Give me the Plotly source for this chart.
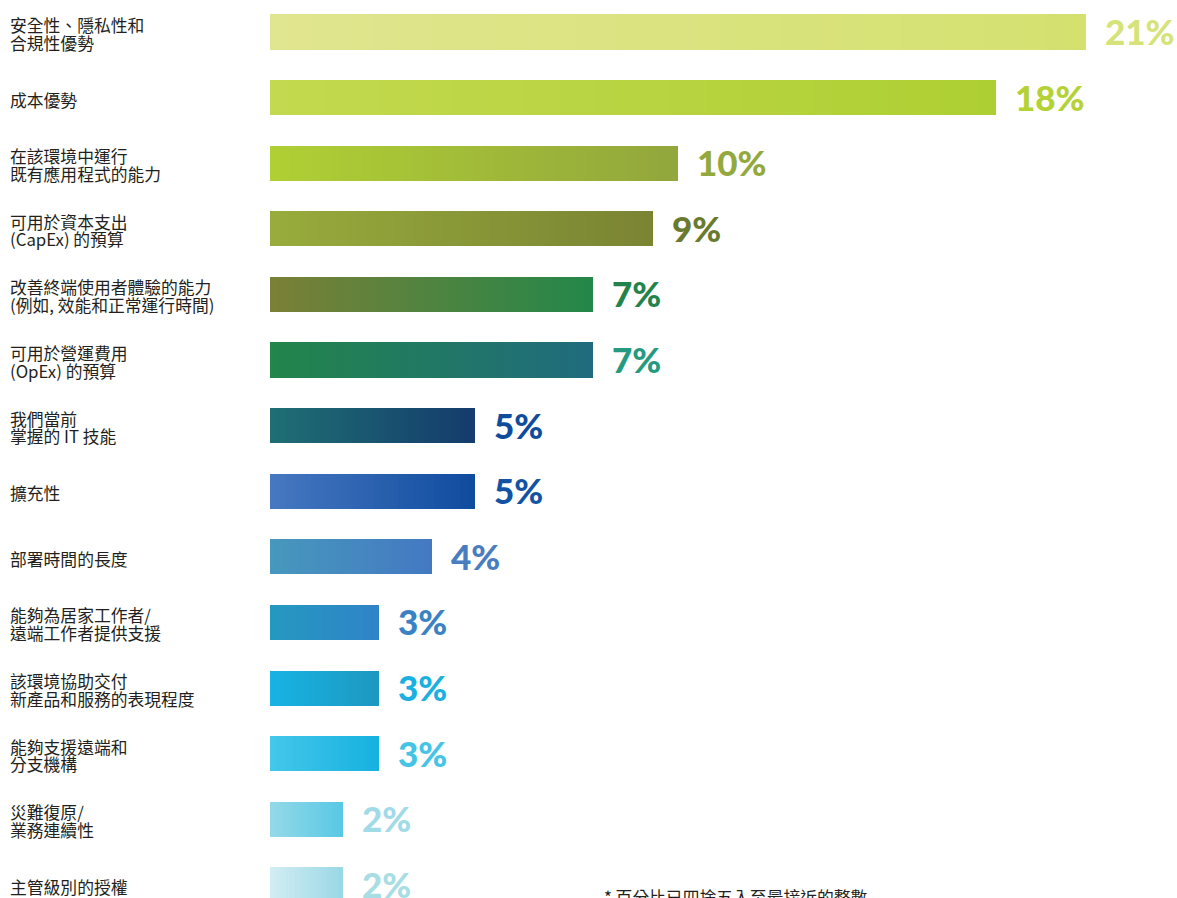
import plotly.graph_objects as go

# ---------------- data ----------------
categories = [
    "安全性、隱私性和<br>合規性優勢",
    "成本優勢",
    "在該環境中運行<br>既有應用程式的能力",
    "可用於資本支出<br>(CapEx) 的預算",
    "改善終端使用者體驗的能力<br>(例如, 效能和正常運行時間)",
    "可用於營運費用<br>(OpEx) 的預算",
    "我們當前<br>掌握的 IT 技能",
    "擴充性",
    "部署時間的長度",
    "能夠為居家工作者/<br>遠端工作者提供支援",
    "該環境協助交付<br>新產品和服務的表現程度",
    "能夠支援遠端和<br>分支機構",
    "災難復原/<br>業務連續性",
    "主管級別的授權",
]
# percentages printed next to each bar
pct_values = [21, 18, 10, 9, 7, 7, 5, 5, 4, 3, 3, 3, 2, 2]
# bar lengths as drawn in the picture (unrounded)
bar_lengths = [21.0, 18.68, 10.5, 9.85, 8.3, 8.3, 5.28, 5.28, 4.17, 2.8, 2.8, 2.8, 1.87, 1.87]

grad_start = ["#e0e58f", "#c3d94f", "#b0d034", "#98ac3c", "#7b8036", "#22854a", "#1f6f74",
              "#4778c1", "#4698bd", "#2499c0", "#17b3e4", "#44c7ea", "#95d9e8", "#d3edf3"]
grad_end = ["#d4e16f", "#aecf33", "#92a63c", "#7a8333", "#23874a", "#206b7e", "#143b6c",
            "#0f4b9e", "#4479c2", "#3083c8", "#1d98c0", "#16b1e0", "#58c8e5", "#9ad8e6"]
label_colors = ["#d5e37a", "#b4d235", "#94a93d", "#6a7a2e", "#23834a", "#259a80", "#0f4c9c",
                "#1452a3", "#4a7dc0", "#3a82c4", "#1ab0e0", "#45c4e6", "#a1dbe8", "#a8dde3"]

footnote = "* 百分比已四捨五入至最接近的整數"

# ---------------- helpers ----------------
def hex2rgb(h):
    h = h.lstrip("#")
    return tuple(int(h[i:i + 2], 16) for i in (0, 2, 4))


def mix(c1, c2, t):
    a, b = hex2rgb(c1), hex2rgb(c2)
    return "rgb(%d,%d,%d)" % tuple(round(a[i] + (b[i] - a[i]) * t) for i in range(3))


N_SEG = 40
fig = go.Figure()
for k in range(N_SEG):
    t = (k + 0.5) / N_SEG
    fig.add_trace(go.Bar(
        x=[v / N_SEG for v in bar_lengths],
        y=categories,
        orientation="h",
        width=0.535,
        marker=dict(color=[mix(s, e, t) for s, e in zip(grad_start, grad_end)],
                    line=dict(width=0)),
        hoverinfo="skip",
        showlegend=False,
    ))

annotations = []
# value labels
for cat, L, p, col in zip(categories, bar_lengths, pct_values, label_colors):
    annotations.append(dict(
        x=L, y=cat, xref="x", yref="y", text=f"{p}%", showarrow=False,
        xanchor="left", yanchor="middle", xshift=17, yshift=1,
        font=dict(family="Lato", size=35, color=col, weight=900),
    ))

# category labels (left aligned)
plot_left = 270
plot_w = 1177 - plot_left
for cat in categories:
    lines = cat.split("<br>")
    if len(lines) == 1:
        shifts = [-2]
    else:
        shifts = [7, -10.5]
    for line, ys in zip(lines, shifts):
        annotations.append(dict(
            x=(8 - plot_left) / plot_w, y=cat, xref="paper", yref="y",
            text=line, showarrow=False, xanchor="left", yanchor="middle", yshift=ys,
            font=dict(family="Noto Sans CJK TC", size=16.8, color="#231f20"),
        ))

annotations.append(dict(
    x=(602 - plot_left) / plot_w, y=(898 - 883) / 898, xref="paper", yref="paper",
    text=footnote, showarrow=False, xanchor="left", yanchor="top",
    font=dict(family="Noto Sans CJK TC", size=16.8, color="#231f20"),
))

fig.update_layout(
    width=1177, height=898,
    margin=dict(l=plot_left, r=0, t=0, b=0),
    barmode="stack", bargap=0,
    plot_bgcolor="white", paper_bgcolor="white",
    xaxis=dict(range=[0, plot_w / (816 / 21)], visible=False, fixedrange=True),
    yaxis=dict(range=[13.2, -0.488], visible=False, fixedrange=True,
               categoryorder="array", categoryarray=categories),
    annotations=annotations,
)

fig.write_html("out.html")
